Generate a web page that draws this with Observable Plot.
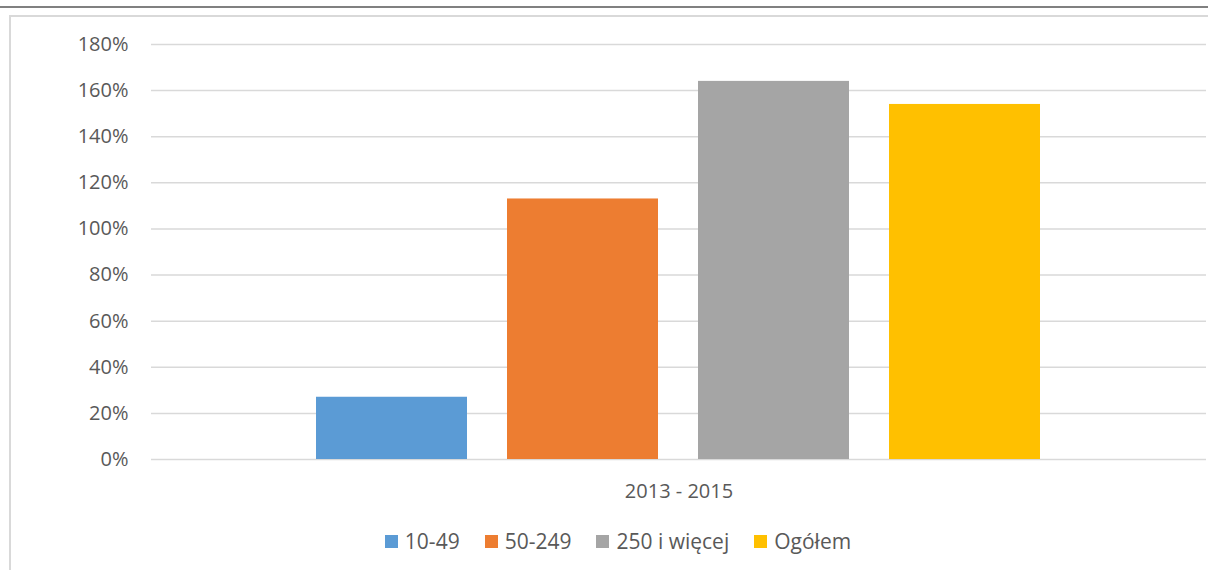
<!DOCTYPE html>
<html>
<head>
<meta charset="utf-8">
<script src="https://cdn.jsdelivr.net/npm/d3@7"></script>
<script src="https://cdn.jsdelivr.net/npm/@observablehq/plot@0.6"></script>
<style>
  html, body { margin: 0; padding: 0; background: #fff; width: 1208px; height: 570px; overflow: hidden; }
  #topline { position: absolute; left: 0; top: 6px; width: 1208px; height: 2px; background: #808080; }
  #box { position: absolute; left: 9px; top: 15px; width: 1199px; height: 600px; border-left: 2px solid #d9d9d9; border-top: 2px solid #d9d9d9; box-sizing: border-box; }
  #chart { position: absolute; left: 0; top: 0; }
  #legend { position: absolute; left: 0; top: 528px; width: 1208px; display: flex; justify-content: center; gap: 25px;
            font-family: "Open Sans", sans-serif; font-size: 21px; color: #595959; line-height: 26px; padding-left: 28px; box-sizing: border-box; }
  .item { display: flex; align-items: center; }
  .sw { width: 13px; height: 13px; margin-right: 7px; }
</style>
</head>
<body>
<div id="topline"></div>
<div id="box"></div>
<div id="chart"></div>
<div id="legend"></div>
<script>
const periods = ["2013 - 2015"];
const series = ["10-49", "50-249", "250 i więcej", "Ogółem"];
const values = [0.27, 1.13, 1.64, 1.54];
const colors = ["#5b9bd5", "#ed7d31", "#a5a5a5", "#ffc000"];
const yTicks = [0, 0.2, 0.4, 0.6, 0.8, 1.0, 1.2, 1.4, 1.6, 1.8];

const rows = series.map((s, i) => ({period: periods[0], series: s, value: values[i]}));

const chart = Plot.plot({
  width: 1208,
  height: 510,
  marginTop: 44,
  marginLeft: 151,
  marginRight: 2,
  marginBottom: 51,
  style: {fontFamily: "'Open Sans', sans-serif", fontSize: "20px", color: "#595959", background: "transparent"},
  fx: {domain: periods, padding: 0, label: null, axis: null},
  x: {domain: series, paddingInner: 0.2094, paddingOuter: 0.866, axis: null},
  y: {domain: [0, 1.8], label: null, axis: null},
  color: {domain: series, range: colors},
  marks: [
    Plot.gridY(yTicks, {stroke: "#d9d9d9", strokeOpacity: 1, strokeWidth: 1.5}),
    Plot.axisY(yTicks, {tickSize: 0, tickPadding: 23, tickFormat: d => Math.round(d * 100) + "%", label: null, fill: "#595959"}),
    Plot.axisFx({anchor: "bottom", tickSize: 0, tickPadding: 24, label: null, fill: "#595959"}),
    Plot.barY(rows, {fx: "period", x: "series", y: "value", fill: "series"})
  ]
});
document.getElementById("chart").append(chart);

const legend = document.getElementById("legend");
series.forEach((s, i) => {
  const it = document.createElement("div");
  it.className = "item";
  const sw = document.createElement("div");
  sw.className = "sw";
  sw.style.background = colors[i];
  const t = document.createElement("span");
  t.textContent = s;
  it.append(sw, t);
  legend.append(it);
});
</script>
</body>
</html>
